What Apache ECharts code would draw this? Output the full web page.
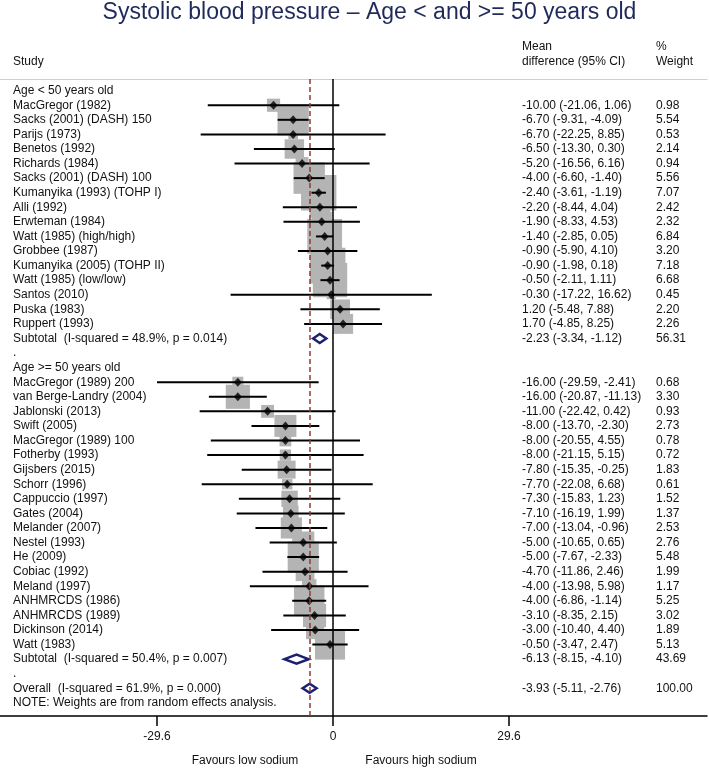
<!DOCTYPE html>
<html><head><meta charset="utf-8">
<script src="https://cdn.jsdelivr.net/npm/echarts@6/dist/echarts.min.js"></script>
<style>html,body{margin:0;padding:0;background:#fff}#chart{width:709px;height:770px}</style>
</head><body><div id="chart"></div>
<script>
const titleText = 'Systolic blood pressure \u2013 Age < and >= 50 years old';
const headerStudy = 'Study';
const headerEst = ['Mean', 'difference (95% CI)'];
const headerWeight = ['%', 'Weight'];

const group1Label = 'Age < 50 years old';
const group1Studies = ['MacGregor (1982)', 'Sacks (2001) (DASH) 150', 'Parijs (1973)', 'Benetos (1992)', 'Richards (1984)', 'Sacks (2001) (DASH) 100', 'Kumanyika (1993) (TOHP I)', 'Alli (1992)', 'Erwteman (1984)', 'Watt (1985) (high/high)', 'Grobbee (1987)', 'Kumanyika (2005) (TOHP II)', 'Watt (1985) (low/low)', 'Santos (2010)', 'Puska (1983)', 'Ruppert (1993)'];
const group1Est = [-10.00, -6.70, -6.70, -6.50, -5.20, -4.00, -2.40, -2.20, -1.90, -1.40, -0.90, -0.90, -0.50, -0.30, 1.20, 1.70];
const group1Lo = [-21.06, -9.31, -22.25, -13.30, -16.56, -6.60, -3.61, -8.44, -8.33, -2.85, -5.90, -1.98, -2.11, -17.22, -5.48, -4.85];
const group1Hi = [1.06, -4.09, 8.85, 0.30, 6.16, -1.40, -1.19, 4.04, 4.53, 0.05, 4.10, 0.18, 1.11, 16.62, 7.88, 8.25];
const group1Weight = [0.98, 5.54, 0.53, 2.14, 0.94, 5.56, 7.07, 2.42, 2.32, 6.84, 3.20, 7.18, 6.68, 0.45, 2.20, 2.26];

const group2Label = 'Age >= 50 years old';
const group2Studies = ['MacGregor (1989) 200', 'van Berge-Landry (2004)', 'Jablonski (2013)', 'Swift (2005)', 'MacGregor (1989) 100', 'Fotherby (1993)', 'Gijsbers (2015)', 'Schorr (1996)', 'Cappuccio (1997)', 'Gates (2004)', 'Melander (2007)', 'Nestel (1993)', 'He (2009)', 'Cobiac (1992)', 'Meland (1997)', 'ANHMRCDS (1986)', 'ANHMRCDS (1989)', 'Dickinson (2014)', 'Watt (1983)'];
const group2Est = [-16.00, -16.00, -11.00, -8.00, -8.00, -8.00, -7.80, -7.70, -7.30, -7.10, -7.00, -5.00, -5.00, -4.70, -4.00, -4.00, -3.10, -3.00, -0.50];
const group2Lo = [-29.59, -20.87, -22.42, -13.70, -20.55, -21.15, -15.35, -22.08, -15.83, -16.19, -13.04, -10.65, -7.67, -11.86, -13.98, -6.86, -8.35, -10.40, -3.47];
const group2Hi = [-2.41, -11.13, 0.42, -2.30, 4.55, 5.15, -0.25, 6.68, 1.23, 1.99, -0.96, 0.65, -2.33, 2.46, 5.98, -1.14, 2.15, 4.40, 2.47];
const group2Weight = [0.68, 3.30, 0.93, 2.73, 0.78, 0.72, 1.83, 0.61, 1.52, 1.37, 2.53, 2.76, 5.48, 1.99, 1.17, 5.25, 3.02, 1.89, 5.13];

const subtotalLabels = ['Subtotal  (I-squared = 48.9%, p = 0.014)', 'Subtotal  (I-squared = 50.4%, p = 0.007)'];
const subtotalEst = [-2.23, -6.13];
const subtotalLo = [-3.34, -8.15];
const subtotalHi = [-1.12, -4.10];
const subtotalWeight = [56.31, 43.69];

const overallLabel = 'Overall  (I-squared = 61.9%, p = 0.000)';
const overallEst = [-3.93];
const overallLo = [-5.11];
const overallHi = [-2.76];
const overallWeight = [100.00];

const noteText = 'NOTE: Weights are from random effects analysis.';
const tickValues = [-29.6, 0, 29.6];
const favourLabels = ['Favours low sodium', 'Favours high sodium'];

// ---- build rows ----
const rows = [];
function addGroup(label, names, est, lo, hi, wt, si) {
  rows.push({ text: label, kind: 'head' });
  names.forEach((n, k) => rows.push({ text: n, est: est[k], lo: lo[k], hi: hi[k], w: wt[k], kind: 'study' }));
  rows.push({ text: subtotalLabels[si], est: subtotalEst[si], lo: subtotalLo[si], hi: subtotalHi[si], w: subtotalWeight[si], kind: 'pooled' });
  rows.push({ text: '.', kind: 'blank' });
}
addGroup(group1Label, group1Studies, group1Est, group1Lo, group1Hi, group1Weight, 0);
addGroup(group2Label, group2Studies, group2Est, group2Lo, group2Hi, group2Weight, 1);
rows.push({ text: overallLabel, est: overallEst[0], lo: overallLo[0], hi: overallHi[0], w: overallWeight[0], kind: 'pooled' });
rows.push({ text: noteText, kind: 'note' });

const studyData = [], ciData = [], pooledData = [], textData = [];
rows.forEach((r, i) => {
  textData.push([0, i]);
  if (r.kind === 'study') { studyData.push([r.est, i, r.w]); ciData.push([r.lo, i, r.hi]); }
  if (r.kind === 'pooled') pooledData.push([r.est, i, r.lo, r.hi]);
});

const FONT = '"Liberation Sans", Arial, sans-serif';
const TXT = '#111111';
const chart = echarts.init(document.getElementById('chart'), null, { renderer: 'canvas' });

const option = {
  animation: false,
  backgroundColor: '#ffffff',
  grid: { left: 0, right: 2, top: 79, bottom: 54 },
  xAxis: [{
    type: 'value', position: 'bottom', min: -56.0, max: 62.9,
    axisLine: { show: true, onZero: false, lineStyle: { color: '#000', width: 1.5 } },
    axisTick: { show: true, customValues: tickValues, length: 10, lineStyle: { color: '#000', width: 1.5 } },
    axisLabel: { show: true, customValues: tickValues, margin: 15, color: TXT, fontSize: 12, fontFamily: FONT, formatter: v => String(v) },
    splitLine: { show: false }
  }, {
    type: 'value', position: 'top', min: -56.0, max: 62.9,
    axisLine: { show: true, onZero: false, lineStyle: { color: '#cfcfcf', width: 1 } },
    axisTick: { show: false }, axisLabel: { show: false }, splitLine: { show: false }
  }],
  yAxis: { type: 'value', inverse: true, min: -0.8, max: 42.9, show: false },
  series: [
    {
      type: 'custom', name: 'boxes', z: 1, clip: false, data: studyData,
      renderItem(params, api) {
        const c = api.coord([api.value(0), api.value(1)]);
        const s = 13.3 * Math.sqrt(api.value(2));
        return { type: 'rect', shape: { x: c[0] - s / 2, y: c[1] - s / 2, width: s, height: s }, style: { fill: '#b4b4b4' } };
      }
    },
    {
      type: 'line', name: 'ref', z: 2, data: [], silent: true,
      markLine: {
        silent: true, symbol: ['none', 'none'], label: { show: false },
        data: [
          { xAxis: 0, lineStyle: { color: '#000', width: 1.5, type: 'solid' } },
          { xAxis: overallEst[0], lineStyle: { color: '#8f3b3b', width: 1.5, type: [5, 3] } }
        ]
      }
    },
    {
      type: 'custom', name: 'ci', z: 3, clip: false, data: ciData,
      renderItem(params, api) {
        const a = api.coord([api.value(0), api.value(1)]);
        const b = api.coord([api.value(2), api.value(1)]);
        return { type: 'line', shape: { x1: a[0], y1: a[1], x2: b[0], y2: b[1] }, style: { stroke: '#000', lineWidth: 2 } };
      }
    },
    {
      type: 'scatter', name: 'points', z: 4, data: studyData.map(d => [d[0], d[1]]),
      symbol: 'diamond', symbolSize: [8, 9], itemStyle: { color: '#000' }, silent: true
    },
    {
      type: 'custom', name: 'pooled', z: 4, clip: false, data: pooledData,
      renderItem(params, api) {
        const m = api.coord([api.value(0), api.value(1)]);
        const l = api.coord([api.value(2), api.value(1)]);
        const h = api.coord([api.value(3), api.value(1)]);
        const hh = 4.5;
        return { type: 'polygon', shape: { points: [[l[0], m[1]], [m[0], m[1] - hh], [h[0], m[1]], [m[0], m[1] + hh]] },
          style: { fill: 'none', stroke: '#1c2070', lineWidth: 2.5 } };
      }
    },
    {
      type: 'custom', name: 'text', z: 5, clip: false, data: textData, silent: true,
      renderItem(params, api) {
        const i = api.value(1);
        const r = rows[i];
        const y = api.coord([0, i])[1];
        const st = t => ({ text: t, fill: TXT, fontSize: 12, fontFamily: FONT, verticalAlign: 'middle', align: 'left' });
        const ch = [{ type: 'text', x: 13, y: y, style: st(r.text) }];
        if (r.est != null) {
          ch.push({ type: 'text', x: 522, y: y, style: st(r.est.toFixed(2) + ' (' + r.lo.toFixed(2) + ', ' + r.hi.toFixed(2) + ')') });
          ch.push({ type: 'text', x: 656, y: y, style: st(r.w.toFixed(2)) });
        }
        return { type: 'group', children: ch };
      }
    }
  ],
  graphic: []
};
chart.setOption(option);

const leftC = chart.convertToPixel({ xAxisIndex: 0 }, tickValues[0] / 2);
const rightC = chart.convertToPixel({ xAxisIndex: 0 }, tickValues[2] / 2);
const hs = t => ({ text: t, fill: TXT, fontSize: 12, fontFamily: FONT, verticalAlign: 'middle' });
chart.setOption({
  graphic: [
    { type: 'text', x: 369.5, y: 13, style: { text: titleText, fill: '#1f2a5a', fontSize: 23, fontFamily: FONT, align: 'center', verticalAlign: 'middle' } },
    { type: 'text', x: 13, y: 62, style: hs(headerStudy) },
    { type: 'text', x: 522, y: 47, style: hs(headerEst[0]) },
    { type: 'text', x: 522, y: 62, style: hs(headerEst[1]) },
    { type: 'text', x: 656, y: 47, style: hs(headerWeight[0]) },
    { type: 'text', x: 656, y: 62, style: hs(headerWeight[1]) },
    { type: 'text', x: leftC, y: 761, style: Object.assign(hs(favourLabels[0]), { align: 'center' }) },
    { type: 'text', x: rightC, y: 761, style: Object.assign(hs(favourLabels[1]), { align: 'center' }) }
  ]
});
</script>
</body></html>
